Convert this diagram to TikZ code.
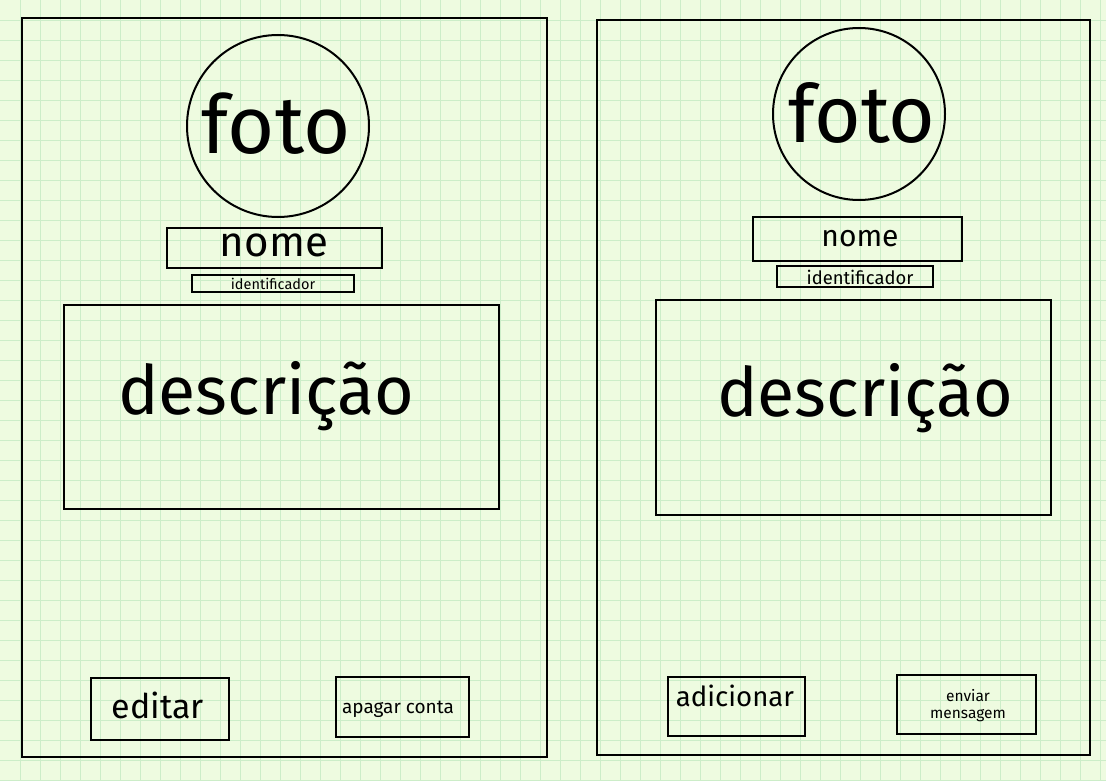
\documentclass[tikz,border=0pt]{standalone}
\usepackage{fontspec}
\setmainfont{Fira Sans}
\definecolor{bgc}{HTML}{EEFBE0}
\definecolor{gridc}{HTML}{CCEDC8}
\tikzset{
  box/.style={draw=black, line width=2pt},
  lbl/.style={inner sep=0pt, text=black},
  pic/.style={draw=black, line width=2pt, circle, inner sep=0pt},
}
\newcommand{\fs}[1]{\fontsize{#1}{#1}\selectfont}
\begin{document}
\begin{tikzpicture}[x=1pt,y=-1pt]
\fill[bgc] (0,0) rectangle (1106,781);
\useasboundingbox (0,0) rectangle (1106,781);
\foreach \g in {20,40,...,1100} {\draw[gridc, line width=0.8pt] (\g,0) -- (\g,781);}
\foreach \g in {20,40,...,780} {\draw[gridc, line width=0.8pt] (0,\g) -- (1106,\g);}
% left panel
\draw[box] (22,18) rectangle (547,757);
\node[pic, minimum size=182pt] (fotoL) at (278,126) {};
\node[lbl] (fotoLt) at (276,124) {\fs{81}foto};
\draw[box] (167,228) rectangle (382,268);
\node[lbl] (nomeL) at (274,245) {\fs{42}nome};
\draw[box] (192,275) rectangle (354,292);
\node[lbl] (idL) at (273,284) {\fs{14.5}identificador};
\draw[box] (64,305) rectangle (499,509);
\node[lbl] (descL) at (266,396) {\fs{68}descrição};
\draw[box] (91,678) rectangle (229,740);
\node[lbl] (editar) at (158,705) {\fs{34}editar};
\draw[box] (336,677) rectangle (469,737);
\node[lbl] (apagar) at (398,709) {\fs{19}apagar conta};
% right panel
\draw[box] (597,20) rectangle (1090,755);
\node[pic, minimum size=172pt] (fotoR) at (859,114) {};
\node[lbl] (fotoRt) at (862,113) {\fs{80}foto};
\draw[box] (753,217) rectangle (962,261);
\node[lbl] (nomeR) at (860,239) {\fs{30}nome};
\draw[box] (777,266) rectangle (933,287);
\node[lbl] (idR) at (860,277) {\fs{18.4}identificador};
\draw[box] (656,300) rectangle (1051,515);
\node[lbl] (descR) at (865,398) {\fs{68}descrição};
\draw[box] (668,677) rectangle (805,736);
\node[lbl] (adic) at (735,696) {\fs{27.6}adicionar};
\draw[box] (897,675) rectangle (1036,734);
\node[lbl, align=center, font=\fontsize{15.5}{17}\selectfont] (enviar) at (968,706) {enviar\\mensagem};
\end{tikzpicture}
\end{document}
